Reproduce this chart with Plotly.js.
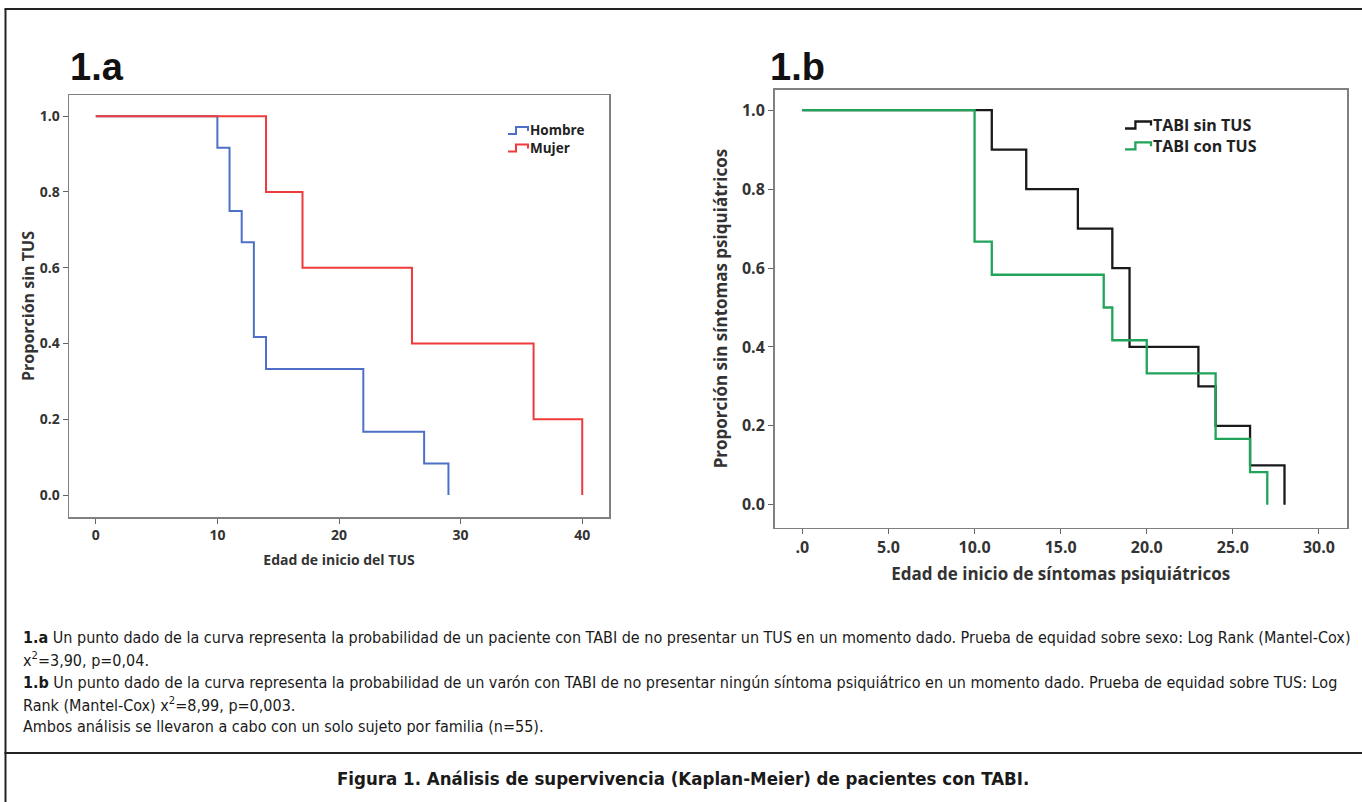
<!DOCTYPE html>
<html>
<head>
<meta charset="utf-8">
<script src="https://cdn.plot.ly/plotly-3.0.1.min.js"></script>
<style>html,body{margin:0;padding:0;background:#fff;}#chart{width:1362px;height:802px;}</style>
</head>
<body>
<div id="chart"></div>
<script>
// ---- Data: panel 1.a (Edad de inicio del TUS) ----
const hombreTime = [0, 10, 11, 12, 13, 14, 22, 27, 29];
const hombreSurv = [1.0, 0.917, 0.75, 0.667, 0.417, 0.333, 0.167, 0.083, 0.0];
const mujerTime = [0, 14, 17, 26, 36, 40];
const mujerSurv = [1.0, 0.8, 0.6, 0.4, 0.2, 0.0];
const xTicksA = [0, 10, 20, 30, 40];
const xTickLabelsA = ['0', '10', '20', '30', '40'];

// ---- Data: panel 1.b (Edad de inicio de síntomas psiquiátricos) ----
const sinTusTime = [0, 11, 13, 16, 18, 19, 23, 24, 26, 28];
const sinTusSurv = [1.0, 0.9, 0.8, 0.7, 0.6, 0.4, 0.3, 0.2, 0.1, 0.0];
const conTusTime = [0, 10, 11, 17.5, 18, 20, 24, 26, 27];
const conTusSurv = [1.0, 0.667, 0.583, 0.5, 0.417, 0.333, 0.167, 0.083, 0.0];
const xTicksB = [0, 5, 10, 15, 20, 25, 30];
const xTickLabelsB = ['.0', '5.0', '10.0', '15.0', '20.0', '25.0', '30.0'];

const yTicks = [0, 0.2, 0.4, 0.6, 0.8, 1.0];
const yTickLabels = ['0.0', '0.2', '0.4', '0.6', '0.8', '1.0'];

const seriesNames = ['Hombre', 'Mujer', 'TABI sin TUS', 'TABI con TUS'];
const seriesColors = ['#4d6fc6', '#ee3b3b', '#1a1a1a', '#21a35a'];

// ---- Caption texts ----
const captionLines = [
  '<b>1.a</b> Un punto dado de la curva representa la probabilidad de un paciente con TABI de no presentar un TUS en un momento dado. Prueba de equidad sobre sexo: Log Rank (Mantel-Cox)',
  'x<sup>2</sup>=3,90, p=0,04.',
  '<b>1.b</b> Un punto dado de la curva representa la probabilidad de un varón con TABI de no presentar ningún síntoma psiquiátrico en un momento dado. Prueba de equidad sobre TUS: Log',
  'Rank (Mantel-Cox) x<sup>2</sup>=8,99, p=0,003.',
  'Ambos análisis se llevaron a cabo con un solo sujeto por familia (n=55).'
];
const figureTitle = 'Figura 1. Análisis de supervivencia (Kaplan-Meier) de pacientes con TABI.';

// ---- Layout helpers ----
const W = 1362, H = 802;
const px = v => v / W;
const py = v => 1 - v / H;
const axFont = 'Open Sans, Noto Sans, DejaVu Sans, sans-serif';
const capFont = 'Liberation Sans Narrow, DejaVu Sans Condensed, Liberation Sans, sans-serif';

const traces = [
  {x: hombreTime, y: hombreSurv, name: seriesNames[0], type: 'scatter', mode: 'lines',
   line: {shape: 'hv', color: seriesColors[0], width: 2}, xaxis: 'x', yaxis: 'y'},
  {x: mujerTime, y: mujerSurv, name: seriesNames[1], type: 'scatter', mode: 'lines',
   line: {shape: 'hv', color: seriesColors[1], width: 2}, xaxis: 'x', yaxis: 'y'},
  {x: sinTusTime, y: sinTusSurv, name: seriesNames[2], type: 'scatter', mode: 'lines',
   line: {shape: 'hv', color: seriesColors[2], width: 2.3}, xaxis: 'x2', yaxis: 'y2'},
  {x: conTusTime, y: conTusSurv, name: seriesNames[3], type: 'scatter', mode: 'lines',
   line: {shape: 'hv', color: seriesColors[3], width: 2.3}, xaxis: 'x2', yaxis: 'y2'}
];

function axisBase(extra) {
  return Object.assign({
    showline: true, linecolor: '#808080', linewidth: 1.5, mirror: true,
    ticks: 'outside', ticklen: 5, tickcolor: '#666', tickwidth: 1,
    showgrid: false, zeroline: false, fixedrange: true
  }, extra);
}

const annotations = [
  {text: '1.a', xref: 'paper', yref: 'paper', x: px(68), y: py(67), xanchor: 'left', yanchor: 'middle',
   showarrow: false, font: {family: 'Liberation Sans, Arial, sans-serif', size: 38, weight: 'bold', color: '#111'}},
  {text: '1.b', xref: 'paper', yref: 'paper', x: px(768), y: py(67), xanchor: 'left', yanchor: 'middle',
   showarrow: false, font: {family: 'Liberation Sans, Arial, sans-serif', size: 38, weight: 'bold', color: '#111'}}
];
const capY = [637, 659, 682, 704, 726];
captionLines.forEach((t, i) => {
  annotations.push({text: t, xref: 'paper', yref: 'paper', x: px(21), y: py(capY[i]),
    xanchor: 'left', yanchor: 'middle', showarrow: false, align: 'left',
    font: {family: capFont, size: 16, color: '#1a1a1a'}});
});
annotations.push({text: '<b>' + figureTitle + '</b>', xref: 'paper', yref: 'paper', x: px(683), y: py(778),
  xanchor: 'center', yanchor: 'middle', showarrow: false,
  font: {family: capFont, size: 18.5, color: '#1a1a1a'}});

const borderLine = {color: '#222', width: 2};
const shapes = [
  {type: 'line', xref: 'paper', yref: 'paper', x0: px(5.5), x1: px(5.5), y0: py(9), y1: py(810), line: borderLine},
  {type: 'line', xref: 'paper', yref: 'paper', x0: px(4.5), x1: px(1370), y0: py(9), y1: py(9), line: borderLine},
  {type: 'line', xref: 'paper', yref: 'paper', x0: px(4.5), x1: px(1370), y0: py(753), y1: py(753), line: borderLine}
];

// ---- Custom SPSS-style legends (step icon + labels) ----
function stepIcon(x0, yc, w, color, lw) {
  const xa = x0, xb = x0 + w * 0.4, xc = x0 + w;
  const yLow = yc + 3.5, yTop = yc - 3.5, yEnd = yc + 0.5;
  const path = 'M' + px(xa) + ',' + py(yLow) + ' L' + px(xb) + ',' + py(yLow) +
    ' L' + px(xb) + ',' + py(yTop) + ' L' + px(xc) + ',' + py(yTop) + ' L' + px(xc) + ',' + py(yEnd);
  return {type: 'path', xref: 'paper', yref: 'paper', path: path, line: {color: color, width: lw}};
}
function legendBlock(idxs, iconX, textX, yFirst, step, w, size, lw) {
  idxs.forEach((idx, k) => shapes.push(stepIcon(iconX, yFirst + k * step, w, seriesColors[idx], lw)));
  annotations.push({text: idxs.map(i => seriesNames[i]).join('<br>'), xref: 'paper', yref: 'paper',
    x: px(textX), y: py(yFirst + (idxs.length - 1) * step / 2),
    xanchor: 'left', yanchor: 'middle', align: 'left', showarrow: false,
    font: {family: axFont, size: size, weight: 'bold', color: '#222'}});
}
legendBlock([0, 1], 508, 528, 130.5, 17.5, 20, 13.5, 2);
legendBlock([2, 3], 1125, 1151, 125, 20.8, 26, 16, 2.3);

const layout = {
  width: W, height: H,
  margin: {l: 0, r: 0, t: 0, b: 0, pad: 0},
  paper_bgcolor: '#fff', plot_bgcolor: '#fff',
  font: {family: axFont, color: '#222'},
  showlegend: false,
  xaxis: axisBase({domain: [px(69), px(609)], range: [-2.2, 42.2], anchor: 'y',
    tickvals: xTicksA, ticktext: xTickLabelsA,
    tickfont: {family: axFont, size: 14, weight: 'bold', color: '#333'},
    title: {text: 'Edad de inicio del TUS', font: {family: axFont, size: 14, weight: 'bold', color: '#333'}, standoff: 12}}),
  yaxis: axisBase({domain: [py(517), py(95)], range: [-0.058, 1.056], anchor: 'x',
    tickvals: yTicks, ticktext: yTickLabels,
    tickfont: {family: axFont, size: 14, weight: 'bold', color: '#333'},
    title: {text: 'Proporción sin TUS', font: {family: axFont, size: 16, weight: 'bold', color: '#333'}, standoff: 1}}),
  xaxis2: axisBase({domain: [px(774.5), px(1347)], range: [-1.62, 31.63], anchor: 'y2',
    tickvals: xTicksB, ticktext: xTickLabelsB,
    tickfont: {family: axFont, size: 16, weight: 'bold', color: '#333'},
    title: {text: 'Edad de inicio de síntomas psiquiátricos', font: {family: axFont, size: 17, weight: 'bold', color: '#333'}, standoff: 10}}),
  yaxis2: axisBase({domain: [py(527.7), py(89.5)], range: [-0.058, 1.0525], anchor: 'x2',
    tickvals: yTicks, ticktext: yTickLabels,
    tickfont: {family: axFont, size: 16, weight: 'bold', color: '#333'},
    title: {text: 'Proporción sin síntomas psiquiátricos', font: {family: axFont, size: 17, weight: 'bold', color: '#333'}, standoff: 10}}),
  annotations: annotations,
  shapes: shapes
};

Plotly.newPlot('chart', traces, layout, {displayModeBar: false, staticPlot: true});
</script>
</body>
</html>
